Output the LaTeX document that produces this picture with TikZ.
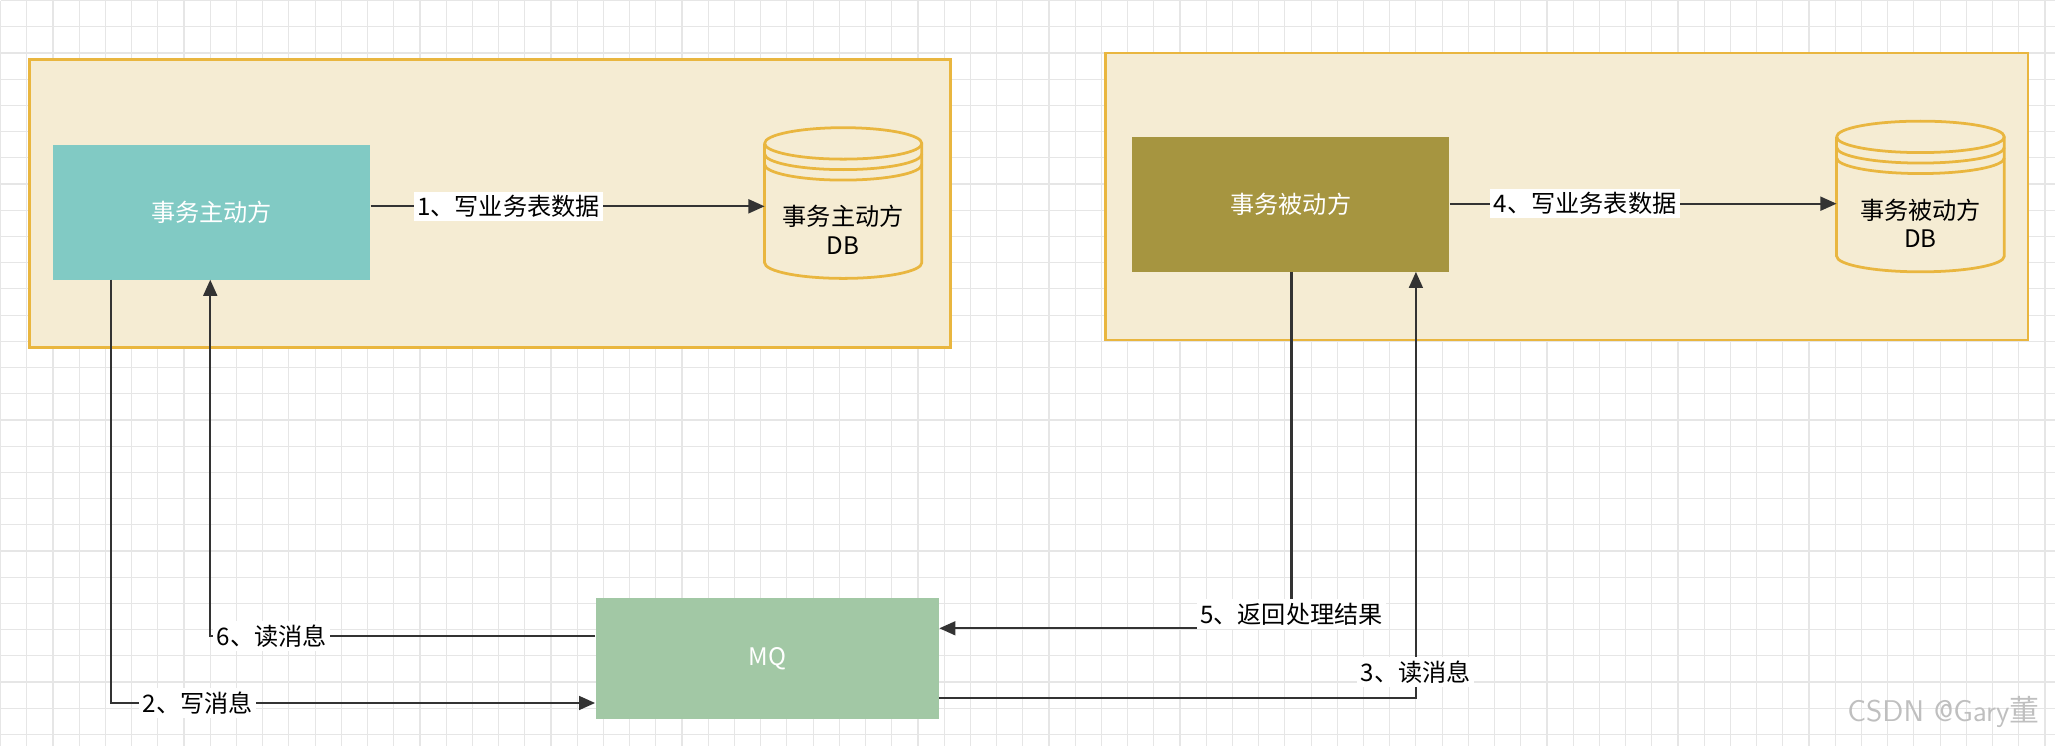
\documentclass[tikz,border=0pt]{standalone}
\usepackage{fontspec}
\newfontfamily\cjk{Noto Sans CJK SC}
\usetikzlibrary{arrows.meta, calc}
\definecolor{panelfill}{HTML}{F5ECD3}
\definecolor{paneldraw}{HTML}{E9B63F}
\definecolor{actfill}{HTML}{81CAC4}
\definecolor{pasfill}{HTML}{A69540}
\definecolor{mqfill}{HTML}{A2C8A5}
\definecolor{gridcol}{HTML}{E6E6E6}
\tikzset{
    panel/.style={draw=paneldraw, fill=panelfill, line width=1.2pt},
    box/.style={rectangle, text=white, minimum width=4.84cm, minimum height=2.06cm},
    dbtext/.style={align=center, text=black},
    line/.style={draw=black!80, line width=1pt, -{Triangle[length=7pt,width=6pt]}},
    lab/.style={fill=white, inner sep=1.5pt, text=black}
}
% database cylinder: centre x, top y, bottom y, half width
\newcommand{\dbcyl}[4]{
    \draw[paneldraw, fill=panelfill, line width=1.2pt]
        (#1-#4,#2+12) -- (#1-#4,#3-12) arc[start angle=180, end angle=0, x radius=#4, y radius=12]
        -- (#1+#4,#2+12) arc[start angle=0, end angle=-180, x radius=#4, y radius=12];
    \foreach \d in {0,8,16}
        \draw[paneldraw, line width=1.2pt] (#1-#4,#2+12+\d) arc[start angle=180, end angle=0, x radius=#4, y radius=12];
}
\begin{document}
\begin{tikzpicture}[x=0.02cm, y=-0.02cm, font=\cjk\fontsize{10.5}{12.5}\selectfont]
    \fill[white] (0,0) rectangle (1568,569);
    \foreach \gx in {0,20,...,1560} \draw[gridcol, line width=0.5pt] (\gx,0) -- (\gx,569);
    \foreach \gy in {0,20,...,560} \draw[gridcol, line width=0.5pt] (0,\gy) -- (1568,\gy);

    % containers
    \draw[panel] (22,45) rectangle (725,265);
    \draw[panel] (843,40) rectangle (1547,259);

    % databases
    \dbcyl{643}{97}{212}{60}
    \dbcyl{1465}{92}{207}{64}
    \node[dbtext] (db1) at (643,175) {事务主动方\\DB};
    \node[dbtext] (db2) at (1465,170) {事务被动方\\DB};
    \coordinate (db1w) at (583,157);
    \coordinate (db2w) at (1401,155);

    % parties
    \node[box, fill=actfill] (act) at (161,161.5) {事务主动方};
    \node[box, fill=pasfill] (pas) at (984.5,155.5) {事务被动方};
    \node[box, fill=mqfill, minimum width=5.24cm, minimum height=1.84cm] (mq) at (585,502) {MQ};

    \draw[line] (act.east |- db1w) -- node[lab, pos=0.35]{1、写业务表数据} (db1w);
    \draw[line] (pas.east |- db2w) -- node[lab, pos=0.35]{4、写业务表数据} (db2w);

    \coordinate (a2) at (84,213);
    \coordinate (a6) at (160,213);
    \coordinate (p5) at (985,207);
    \coordinate (p3) at (1080,207);

    \draw[line] (a2) |- node[lab, pos=0.59]{2、写消息} ($(mq.west)+(0,34)$);
    \draw[line] ($(mq.west)+(0,-17)$) -| node[lab, pos=0.42]{6、读消息} (a6);
    \draw[line] (p5) |- node[lab, pos=0.48]{5、返回处理结果} ($(mq.east)+(0,-23)$);
    \draw[line] ($(mq.east)+(0,30)$) -| node[lab, pos=0.53]{3、读消息} (p3);

    \node[text=black!25, font=\sffamily\fontsize{13}{15}\selectfont, anchor=east] (mark) at (1562,543) {CSDN @Gary{\cjk 董}};
\end{tikzpicture}
\end{document}
